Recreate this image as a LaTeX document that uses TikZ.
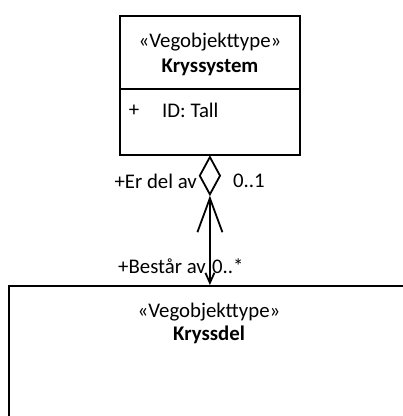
\documentclass[tikz,border=0pt]{standalone}
\usepackage{fontspec}
\setmainfont{Carlito}
\usetikzlibrary{shapes.geometric,arrows.meta}
\begin{document}
\begin{tikzpicture}[x=1pt,y=-1pt,
  umlbox/.style={draw,line width=1.8pt,inner sep=0pt,anchor=north west},
  lbl/.style={font=\fontsize{20.8}{24}\selectfont,inner sep=0pt},
  bold/.style={font=\fontsize{20.8}{24}\selectfont\bfseries},
  conn/.style={line width=1.8pt}]
\useasboundingbox (0,0) rectangle (403,416);
\clip (0,0) rectangle (403,416);
% top class
\node[umlbox,minimum width=180pt,minimum height=139pt] (sys) at (119,15) {};
\coordinate (divL) at (119,89);
\coordinate (divR) at (299,89);
\draw[conn] (divL) -- (divR);
\node[lbl] (sysst) at (210,42) {«Vegobjekttype»};
\node[lbl,bold] (sysname) at (210,67) {Kryssystem};
\node[lbl] (plus) at (134,111) {+};
\node[lbl,anchor=west] (attr) at (162,110) {ID: Tall};
% bottom class (extends beyond the picture)
\node[umlbox,minimum width=420pt,minimum height=160pt] (del) at (8,285) {};
\node[lbl] (delst) at (209,312) {«Vegobjekttype»};
\node[lbl,bold] (delname) at (209,335) {Kryssdel};
% aggregation diamond
\node[diamond,draw,line width=1.8pt,fill=white,inner sep=0pt,minimum width=21pt,minimum height=38pt,anchor=north] (dia) at (sys.south) {};
% connector
\draw[conn,{Straight Barb[length=34pt,width=25pt,line width=1.8pt]}-{Straight Barb[length=10pt,width=9pt,line width=1.8pt]}] (dia.south) -- (dia.south |- del.north);
% role labels
\node[lbl,anchor=east] (r1) at (197,181) {+Er del av};
\node[lbl,anchor=west] (m1) at (233,181) {0..1};
\node[lbl,anchor=east] (r2) at (206,266) {+Består av};
\node[lbl,anchor=west] (m2) at (212,266) {0..*};
\end{tikzpicture}
\end{document}
